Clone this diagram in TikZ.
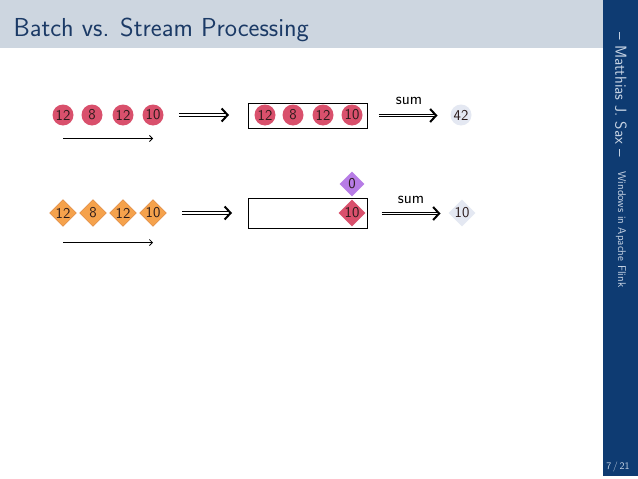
\documentclass[tikz,border=0pt]{standalone}
\usetikzlibrary{shapes.geometric,arrows.meta}
\definecolor{titlebg}{HTML}{CDD6E0}
\definecolor{titlefg}{HTML}{1B3A66}
\definecolor{side}{HTML}{0E3B72}
\definecolor{sidefg}{HTML}{C8D4E4}
\definecolor{rec}{HTML}{D9506C}
\definecolor{ora}{HTML}{F5A24C}
\definecolor{orad}{HTML}{D9803A}
\definecolor{pur}{HTML}{B77CE6}
\definecolor{res}{HTML}{E4E8F2}
\definecolor{numc}{HTML}{2A1A1A}
\begin{document}
\begin{tikzpicture}[x=1pt,y=-1pt,font=\sffamily,
  numfont/.style={font=\sffamily\fontsize{15}{15}\selectfont,text=numc},
  rc/.style={circle,fill=rec,inner sep=0pt,minimum size=21pt,numfont},
  od/.style={diamond,fill=ora,draw=orad,line width=0.4pt,inner sep=0pt,minimum size=27pt,numfont},
  rd/.style={diamond,fill=rec,inner sep=0pt,minimum size=27pt,numfont},
  pd/.style={diamond,fill=pur,inner sep=0pt,minimum size=25pt,numfont},
  resc/.style={circle,fill=res,inner sep=0pt,minimum size=21pt,numfont},
  resd/.style={diamond,fill=res,inner sep=0pt,minimum size=27pt,numfont},
  dbl/.style={double,double distance=1.3pt,line width=1.2pt,-{Straight Barb[length=6pt,width=13pt,line width=2pt]}},
  tarrow/.style={line width=0.8pt,-{Straight Barb[length=3pt,width=6pt,line width=0.8pt]}},
  boxx/.style={draw,line width=1pt,inner sep=0pt},
  sumlab/.style={font=\sffamily\fontsize{16.5}{16.5}\selectfont}]
\useasboundingbox (0,0) rectangle (638,479);
\fill[white] (0,0) rectangle (638,479);
\fill[titlebg] (0,0) rectangle (603,48);
\fill[side] (603,0) rectangle (638,476);
\node[anchor=west,text=titlefg,font=\sffamily\fontsize{26}{26}\selectfont] (title) at (10,30) {Batch vs. Stream Processing};
\node[rotate=-90,anchor=west,text=sidefg,font=\sffamily\fontsize{16}{16}\selectfont] (author) at (621,29) {-- Matthias J. Sax --};
\node[rotate=-90,anchor=west,text=sidefg,font=\sffamily\fontsize{11.2}{12}\selectfont] (talk) at (621,168) {Windows in Apache Flink};
\node[text=sidefg,font=\sffamily\fontsize{10}{10}\selectfont] (page) at (618,467) {7\,/\,21};
% row 1
\node[rc] (a1) at (63,115) {12};
\node[rc] (a2) at (92,115) {8};
\node[rc] (a3) at (123,115) {12};
\node[rc] (a4) at (153,115) {10};
\coordinate (t1s) at (63,138.5);
\coordinate (t1e) at (153,138.5);
\draw[tarrow] (t1s) -- (t1e);
\coordinate (d1s) at (179,115);
\coordinate (d1e) at (229,115);
\draw[dbl] (d1s) -- (d1e);
\node[boxx,minimum width=119pt,minimum height=25pt] (box1) at (307.5,115.5) {};
\node[rc] (b1) at (265,115) {12};
\node[rc] (b2) at (293,115) {8};
\node[rc] (b3) at (323,115) {12};
\node[rc] (b4) at (352,115) {10};
\node[resc] (r1) at (461,115) {42};
\draw[dbl] (box1.east) ++(11,0) coordinate (s1s) -- ++(59,0) coordinate (s1e);
\node[sumlab] (sum1) at (409,101) {sum};
% row 2
\node[od] (c1) at (63,213) {12};
\node[od] (c2) at (93,213) {8};
\node[od] (c3) at (123,213) {12};
\node[od] (c4) at (153,213) {10};
\coordinate (t2s) at (63,242.5);
\coordinate (t2e) at (153,242.5);
\draw[tarrow] (t2s) -- (t2e);
\coordinate (d2s) at (182,213);
\coordinate (d2e) at (232,213);
\draw[dbl] (d2s) -- (d2e);
\node[boxx,minimum width=119pt,minimum height=30pt] (box2) at (307.5,213.5) {};
\node[rd] (e1) at (352,213) {10};
\node[pd] (p1) at (352,184) {0};
\node[resd] (r2) at (462,213) {10};
\draw[dbl] (box2.east) ++(14,0) coordinate (s2s) -- ++(59,0) coordinate (s2e);
\node[sumlab] (sum2) at (411,200) {sum};
\end{tikzpicture}
\end{document}
